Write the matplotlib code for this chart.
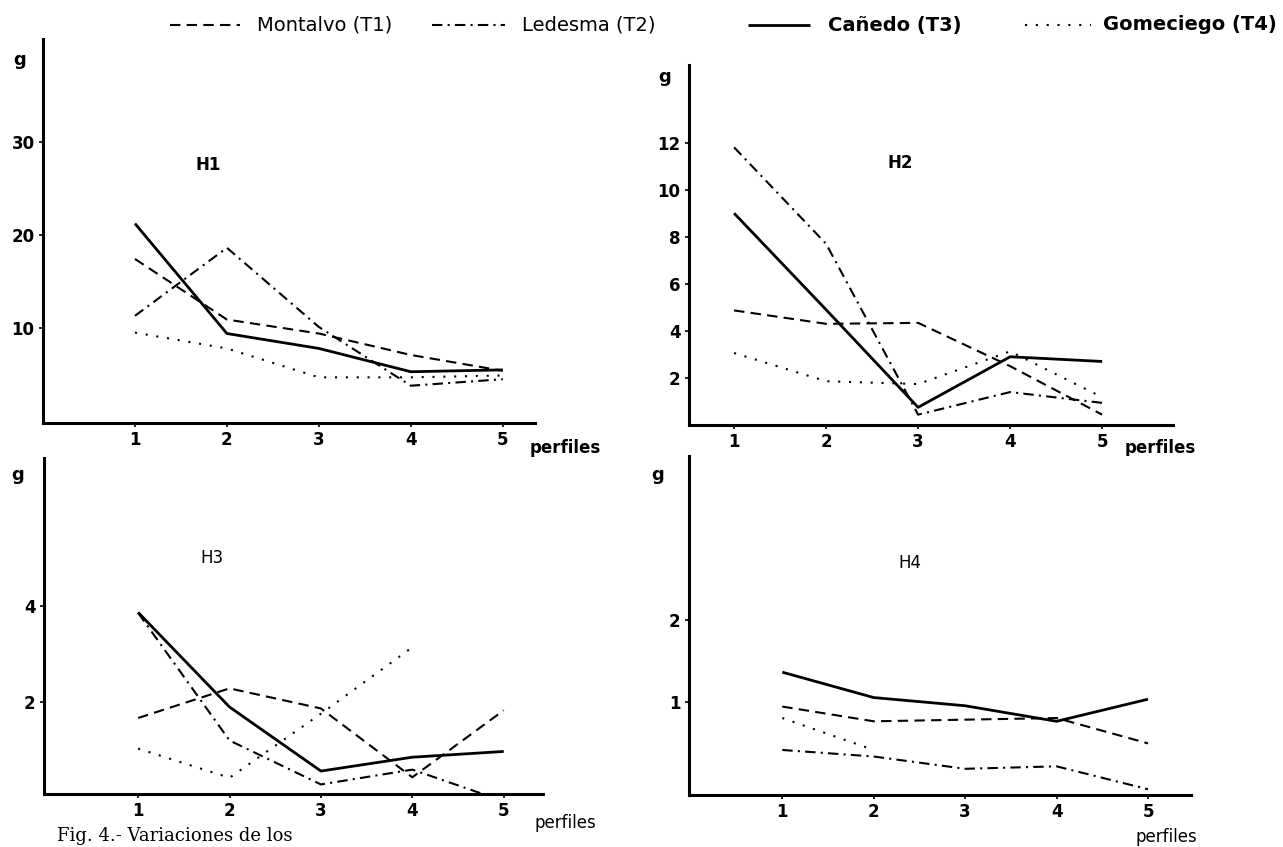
import numpy as np
import matplotlib
matplotlib.use("Agg")
import matplotlib.pyplot as plt
from matplotlib.lines import Line2D

nan = np.nan

# ---------------- data ----------------
perfiles = [1, 2, 3, 4, 5]
series_names = ["Montalvo (T1)", "Ledesma (T2)", "Cañedo (T3)", "Gomeciego (T4)"]

h1_montalvo = [17.4, 10.9, 9.4, 7.1, 5.4]
h1_ledesma = [11.3, 18.6, 10.1, 3.8, 4.5]
h1_canedo = [21.2, 9.4, 7.8, 5.3, 5.5]
h1_gomeciego = [9.5, 7.8, 4.7, 4.7, 4.9]

h2_montalvo = [4.87, 4.3, 4.34, 2.5, 0.44]
h2_ledesma = [11.8, 7.7, 0.44, 1.4, 0.94]
h2_canedo = [9.0, 4.9, 0.75, 2.9, 2.7]
h2_gomeciego = [3.06, 1.86, 1.74, 3.13, 1.18]

h3_montalvo = [1.66, 2.28, 1.86, 0.42, 1.82]
h3_ledesma = [3.86, 1.19, 0.27, 0.58, -0.08]
h3_canedo = [3.87, 1.89, 0.55, 0.84, 0.96]
h3_gomeciego = [1.02, 0.41, 1.75, 3.14, nan]

h4_montalvo = [0.94, 0.76, 0.78, 0.80, 0.49]
h4_ledesma = [0.41, 0.33, 0.18, 0.21, -0.07]
h4_canedo = [1.36, 1.05, 0.95, 0.76, 1.03]
h4_gomeciego = [0.80, 0.41, nan, nan, nan]

h1_yticks = [10, 20, 30]
h2_yticks = [2, 4, 6, 8, 10, 12]
h3_yticks = [2, 4]
h4_yticks = [1, 2]

caption = "Fig. 4.- Variaciones de los"

# ---------------- styles ----------------
LW = 1.5
styles = [
    dict(dashes=(5, 3)),                 # Montalvo dashed
    dict(dashes=(5, 2.5, 1, 2.5)),       # Ledesma dash-dot
    dict(linestyle="-", lw=2.0),         # Cañedo solid
    dict(dashes=(1, 4.2)),               # Gomeciego dotted
]

FONT = "DejaVu Sans"

fig = plt.figure(figsize=(12.83, 8.47), dpi=100)
W, H = 1283, 847


def ax_rect(left, top, right, bottom):
    return [left / W, 1 - bottom / H, (right - left) / W, (bottom - top) / H]


panels = [
    dict(rect=ax_rect(43, 39, 535, 423), xlim=(0, 5.35), ylim=(-0.2, 41),
         yticks=h1_yticks, data=[h1_montalvo, h1_ledesma, h1_canedo, h1_gomeciego],
         label="H1", lab_pos=(0.335, 0.672), lab_w="bold", perf_w="bold",
         g_pos=(-0.047, 0.945), perf_pos=(1.061, -0.065)),
    dict(rect=ax_rect(689, 65, 1173, 425), xlim=(0.51, 5.77), ylim=(0, 15.3),
         yticks=h2_yticks, data=[h2_montalvo, h2_ledesma, h2_canedo, h2_gomeciego],
         label="H2", lab_pos=(0.436, 0.728), lab_w="bold", perf_w="bold",
         g_pos=(-0.05, 0.967), perf_pos=(0.973, -0.064)),
    dict(rect=ax_rect(44, 458, 543, 794), xlim=(-0.03, 5.43), ylim=(0.07, 7.1),
         yticks=h3_yticks, data=[h3_montalvo, h3_ledesma, h3_canedo, h3_gomeciego],
         label="H3", lab_pos=(0.337, 0.702), lab_w="normal", perf_w="normal",
         g_pos=(-0.052, 0.95), perf_pos=(1.044, -0.086)),
    dict(rect=ax_rect(689, 456, 1191, 795), xlim=(-0.02, 5.47), ylim=(-0.14, 4.0),
         yticks=h4_yticks, data=[h4_montalvo, h4_ledesma, h4_canedo, h4_gomeciego],
         label="H4", lab_pos=(0.44, 0.684), lab_w="normal", perf_w="normal",
         g_pos=(-0.062, 0.944), perf_pos=(0.95, -0.124)),
]

for p in panels:
    ax = fig.add_axes(p["rect"])
    for vals, st in zip(p["data"], styles):
        kw = dict(color="black", lw=LW, solid_capstyle="butt",
                  dash_capstyle="butt", clip_on=True)
        kw.update(st)
        ax.plot(perfiles, vals, **kw)
    ax.set_xlim(*p["xlim"])
    ax.set_ylim(*p["ylim"])
    ax.set_xticks(perfiles)
    ax.set_yticks(p["yticks"])
    for s in ("top", "right"):
        ax.spines[s].set_visible(False)
    for s in ("left", "bottom"):
        ax.spines[s].set_linewidth(2.2)
        ax.spines[s].set_color("black")
    ax.tick_params(axis="both", length=3, width=1.2, color="black",
                   labelsize=12, pad=3)
    for lab in ax.get_xticklabels() + ax.get_yticklabels():
        lab.set_fontfamily(FONT)
        lab.set_fontweight("bold")
    ax.text(*p["lab_pos"], p["label"], transform=ax.transAxes, fontsize=12,
            fontweight=p["lab_w"], family=FONT, ha="center", va="center")
    ax.text(*p["g_pos"], "g", transform=ax.transAxes, fontsize=13,
            fontweight="bold", family=FONT, ha="center", va="center")
    ax.text(*p["perf_pos"], "perfiles", transform=ax.transAxes, fontsize=12,
            fontweight=p["perf_w"], family=FONT, ha="center", va="center")
    ax.set_facecolor("white")

# ---------------- legend (top) ----------------
leg_y = 1 - 25 / H
leg_items = [
    (170, 240, 257, "normal"),
    (432, 505, 522, "normal"),
    (748, 810, 828, "bold"),
    (1025, 1091, 1103, "bold"),
]
for (x0, x1, xt, fw), st, name in zip(leg_items, styles, series_names):
    kw = dict(color="black", lw=LW, solid_capstyle="butt", dash_capstyle="butt")
    kw.update(st)
    fig.add_artist(Line2D([x0 / W, x1 / W], [leg_y, leg_y],
                          transform=fig.transFigure, **kw))
    fig.text(xt / W, leg_y, name, fontsize=14, fontweight=fw, family=FONT,
             ha="left", va="center")

# caption at the bottom edge
fig.text(57 / W, 1 - 845 / H, caption, fontsize=13, family="DejaVu Serif",
         ha="left", va="bottom")

fig.savefig("out.png", dpi=100, facecolor="white")
